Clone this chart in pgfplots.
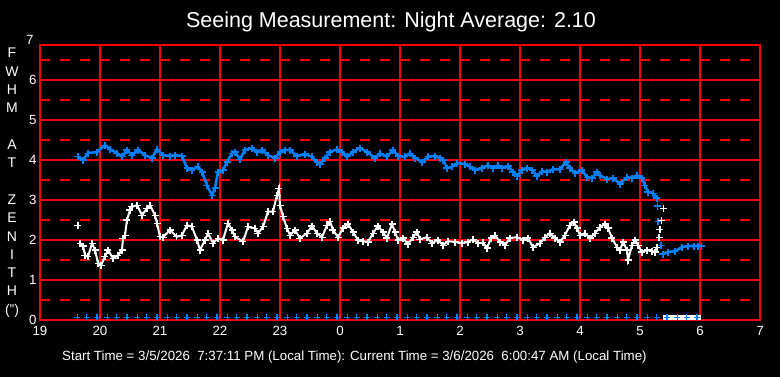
\documentclass[border=0pt]{standalone}
\usepackage{fontspec}
\setmainfont{Liberation Sans}
\usepackage{pgfplots}
\pgfplotsset{compat=1.18}
\definecolor{seeblue}{RGB}{0,128,255}
\definecolor{gridred}{RGB}{255,0,0}
\begin{document}
\begin{tikzpicture}[x=1pt,y=1pt]
\path[fill=black, use as bounding box] (0,0) rectangle (780,-377);
\begin{axis}[
 at={(40pt,-320pt)}, anchor=south west,
 scale only axis, width=720pt, height=275pt,
 xmin=19, xmax=31, ymin=0, ymax=6.875,
 axis line style={gridred, line width=1.6pt},
 xtick={19,...,31},
 xticklabels={19,20,21,22,23,0,1,2,3,4,5,6,7},
 ytick={0,...,6},
 yticklabels={0,1,2,3,4,5,6},
 minor ytick={0.5,1.5,2.5,3.5,4.5,5.5,6.5},
 major tick length=0pt, minor tick length=0pt,
 tick label style={white, font=\fontsize{13.3}{16}\selectfont},
 xticklabel style={yshift=-3pt},
 xmajorgrids, ymajorgrids, yminorgrids,
 major grid style={gridred, line width=1.6pt},
 minor grid style={gridred, line width=1.6pt, dash pattern=on 10pt off 10pt},
]
% baseline markers
\addplot[white, line width=5pt, mark=none] coordinates {(29.38,0.06)(30.02,0.06)};
\addplot[only marks, seeblue, mark=+, mark size=3.2pt, mark options={line width=1.1pt}] coordinates {
(19.62,0.07)(19.78,0.07)(19.95,0.07)(20.12,0.07)(20.28,0.07)(20.45,0.07)(20.62,0.07)(20.78,0.07)(20.95,0.07)(21.12,0.07)(21.28,0.07)(21.45,0.07)(21.62,0.07)(21.78,0.07)(21.95,0.07)(22.12,0.07)(22.28,0.07)(22.45,0.07)(22.62,0.07)(22.78,0.07)(22.95,0.07)(23.12,0.07)(23.28,0.07)(23.45,0.07)(23.62,0.07)(23.78,0.07)(23.95,0.07)(24.12,0.07)(24.28,0.07)(24.45,0.07)(24.62,0.07)(24.78,0.07)(24.95,0.07)(25.12,0.07)(25.28,0.07)(25.45,0.07)(25.62,0.07)(25.78,0.07)(25.95,0.07)(26.12,0.07)(26.28,0.07)(26.45,0.07)(26.62,0.07)(26.78,0.07)(26.95,0.07)(27.12,0.07)(27.28,0.07)(27.45,0.07)(27.62,0.07)(27.78,0.07)(27.95,0.07)(28.12,0.07)(28.28,0.07)(28.45,0.07)(28.62,0.07)(28.78,0.07)(28.95,0.07)(29.12,0.07)(29.28,0.07)(29.45,0.07)(29.62,0.07)(29.78,0.07)(29.95,0.07)};
% blue FWHM series
\addplot[seeblue, line width=2.6pt, mark=+, mark size=3.5pt, mark options={line width=1.1pt}] coordinates {
(19.633,4.08)(19.717,4.00)(19.80,4.17)(19.95,4.20)(20.083,4.37)(20.167,4.27)(20.283,4.17)(20.367,4.08)(20.45,4.25)(20.533,4.12)(20.633,4.25)(20.75,4.12)(20.867,4.05)(20.95,4.27)(21.05,4.12)(21.167,4.10)(21.25,4.12)(21.367,4.10)(21.45,3.80)(21.533,3.75)(21.633,3.83)(21.70,3.70)(21.783,3.37)(21.867,3.12)(21.917,3.30)(21.967,3.70)(22.05,3.75)(22.117,3.95)(22.20,4.17)(22.25,4.20)(22.333,4.02)(22.417,4.25)(22.533,4.30)(22.617,4.20)(22.70,4.25)(22.80,4.12)(22.917,4.05)(23.0,4.20)(23.083,4.25)(23.167,4.25)(23.283,4.10)(23.417,4.15)(23.533,4.08)(23.617,3.95)(23.667,3.90)(23.75,4.05)(23.833,4.20)(23.95,4.27)(24.033,4.20)(24.117,4.08)(24.217,4.20)(24.333,4.30)(24.45,4.20)(24.583,4.05)(24.667,4.17)(24.783,4.08)(24.883,4.25)(24.967,4.10)(25.083,4.08)(25.167,4.17)(25.25,4.05)(25.367,3.95)(25.467,4.08)(25.583,4.10)(25.667,4.05)(25.717,4.00)(25.783,3.80)(25.867,3.83)(25.95,3.92)(26.083,3.90)(26.167,3.83)(26.25,3.75)(26.367,3.80)(26.467,3.87)(26.55,3.80)(26.633,3.87)(26.70,3.80)(26.80,3.85)(26.883,3.70)(26.95,3.60)(27.033,3.75)(27.117,3.80)(27.20,3.75)(27.283,3.60)(27.367,3.72)(27.45,3.70)(27.55,3.77)(27.667,3.77)(27.767,3.95)(27.833,3.80)(27.917,3.67)(28.033,3.75)(28.117,3.57)(28.20,3.55)(28.283,3.70)(28.333,3.62)(28.45,3.52)(28.55,3.55)(28.667,3.40)(28.783,3.57)(28.867,3.55)(28.95,3.62)(29.033,3.55)(29.083,3.37)(29.133,3.20)(29.217,3.17)(29.283,3.05)};
\addplot[only marks, seeblue, mark=+, mark size=3.5pt, mark options={line width=1.1pt}] coordinates {(29.29,2.85)(29.30,2.47)(29.317,2.07)(29.35,1.87)};
\addplot[seeblue, line width=2.6pt, mark=+, mark size=3.5pt, mark options={line width=1.1pt}] coordinates {
(29.383,1.65)(29.467,1.70)(29.583,1.72)(29.70,1.82)(29.80,1.85)(29.90,1.85)(29.967,1.85)(30.03,1.85)};
% white series
\addplot[only marks, white, mark=+, mark size=3.5pt, mark options={line width=1.1pt}] coordinates {(19.633,2.37)};
\addplot[white, line width=2pt, mark=+, mark size=3.5pt, mark options={line width=1.1pt}] coordinates {
(19.667,1.92)(19.717,1.85)(19.75,1.62)(19.80,1.58)(19.867,1.92)(19.917,1.75)(19.967,1.42)(20.017,1.37)(20.083,1.58)(20.133,1.75)(20.217,1.54)(20.30,1.62)(20.367,1.75)(20.383,2.04)(20.417,2.12)(20.45,2.5)(20.50,2.75)(20.533,2.83)(20.617,2.87)(20.70,2.62)(20.783,2.79)(20.833,2.87)(20.917,2.62)(20.95,2.42)(21.0,2.08)(21.05,2.07)(21.167,2.25)(21.278,2.08)(21.367,2.12)(21.45,2.37)(21.533,2.33)(21.617,2.0)(21.667,1.75)(21.75,2.0)(21.80,2.17)(21.883,1.92)(21.967,2.04)(22.05,2.0)(22.133,2.42)(22.20,2.25)(22.25,2.08)(22.383,1.96)(22.467,2.33)(22.583,2.29)(22.633,2.17)(22.717,2.33)(22.80,2.71)(22.883,2.71)(22.95,3.12)(22.983,3.29)(23.0,2.87)(23.05,2.58)(23.117,2.29)(23.167,2.12)(23.25,2.25)(23.333,2.04)(23.45,2.17)(23.533,2.35)(23.617,2.17)(23.70,2.07)(23.783,2.37)(23.833,2.47)(23.883,2.25)(23.967,2.07)(24.05,2.30)(24.133,2.40)(24.217,2.20)(24.30,2.00)(24.383,1.97)(24.467,1.95)(24.55,2.17)(24.633,2.35)(24.717,2.20)(24.783,2.05)(24.867,2.40)(24.917,2.20)(24.967,2.00)(25.05,2.05)(25.133,1.90)(25.217,2.07)(25.283,2.20)(25.333,2.02)(25.45,2.07)(25.533,1.92)(25.633,2.00)(25.717,1.87)(25.80,1.97)(25.917,1.95)(26.033,1.92)(26.133,1.95)(26.217,2.02)(26.30,1.92)(26.383,1.93)(26.45,1.80)(26.517,2.05)(26.583,2.12)(26.667,1.95)(26.75,1.87)(26.833,2.05)(26.95,2.07)(27.05,2.00)(27.133,2.05)(27.217,1.82)(27.333,1.92)(27.417,2.07)(27.50,2.17)(27.583,2.05)(27.667,1.95)(27.75,2.12)(27.833,2.37)(27.90,2.45)(27.95,2.30)(28.0,2.12)(28.083,2.17)(28.167,2.05)(28.25,2.17)(28.333,2.32)(28.417,2.40)(28.467,2.30)(28.533,2.05)(28.617,1.82)(28.667,1.75)(28.717,1.95)(28.783,1.75)(28.80,1.50)(28.867,1.87)(28.917,2.00)(28.967,1.87)(29.033,1.70)(29.117,1.75)(29.20,1.72)(29.25,1.70)(29.283,1.82)};
\addplot[only marks, white, mark=+, mark size=3.5pt, mark options={line width=1.1pt}] coordinates {(29.317,2.07)(29.333,2.27)(29.361,2.48)(29.389,2.79)};
% blue markers on the white band
\addplot[only marks, seeblue, mark=+, mark size=2.5pt, mark options={line width=1pt}] coordinates {(29.62,0.07)(29.78,0.07)(29.95,0.07)};
\end{axis}
\node[white, anchor=base, font=\fontsize{21.5}{24}\selectfont] at (391,-28) {Seeing Measurement: Night Average: 2.10};
\node[white, anchor=base west, inner sep=0pt, font=\fontsize{13.3}{16}\selectfont] at (62,-360) {Start Time = 3/5/2026\ \ 7:37:11 PM (Local Time): Current Time = 3/6/2026\ \ 6:00:47 AM (Local Time)};
\node[white, anchor=east, font=\fontsize{13.3}{16}\selectfont] at (37,-40) {7};
\foreach \t [count=\i from 0] in {F,W,H,M,{},A,T,{},Z,E,N,I,T,H,{(")}}
  \node[white, anchor=base, font=\fontsize{14}{16}\selectfont] at (12,{-58-18.3*\i}) {\t};
\end{tikzpicture}
\end{document}
